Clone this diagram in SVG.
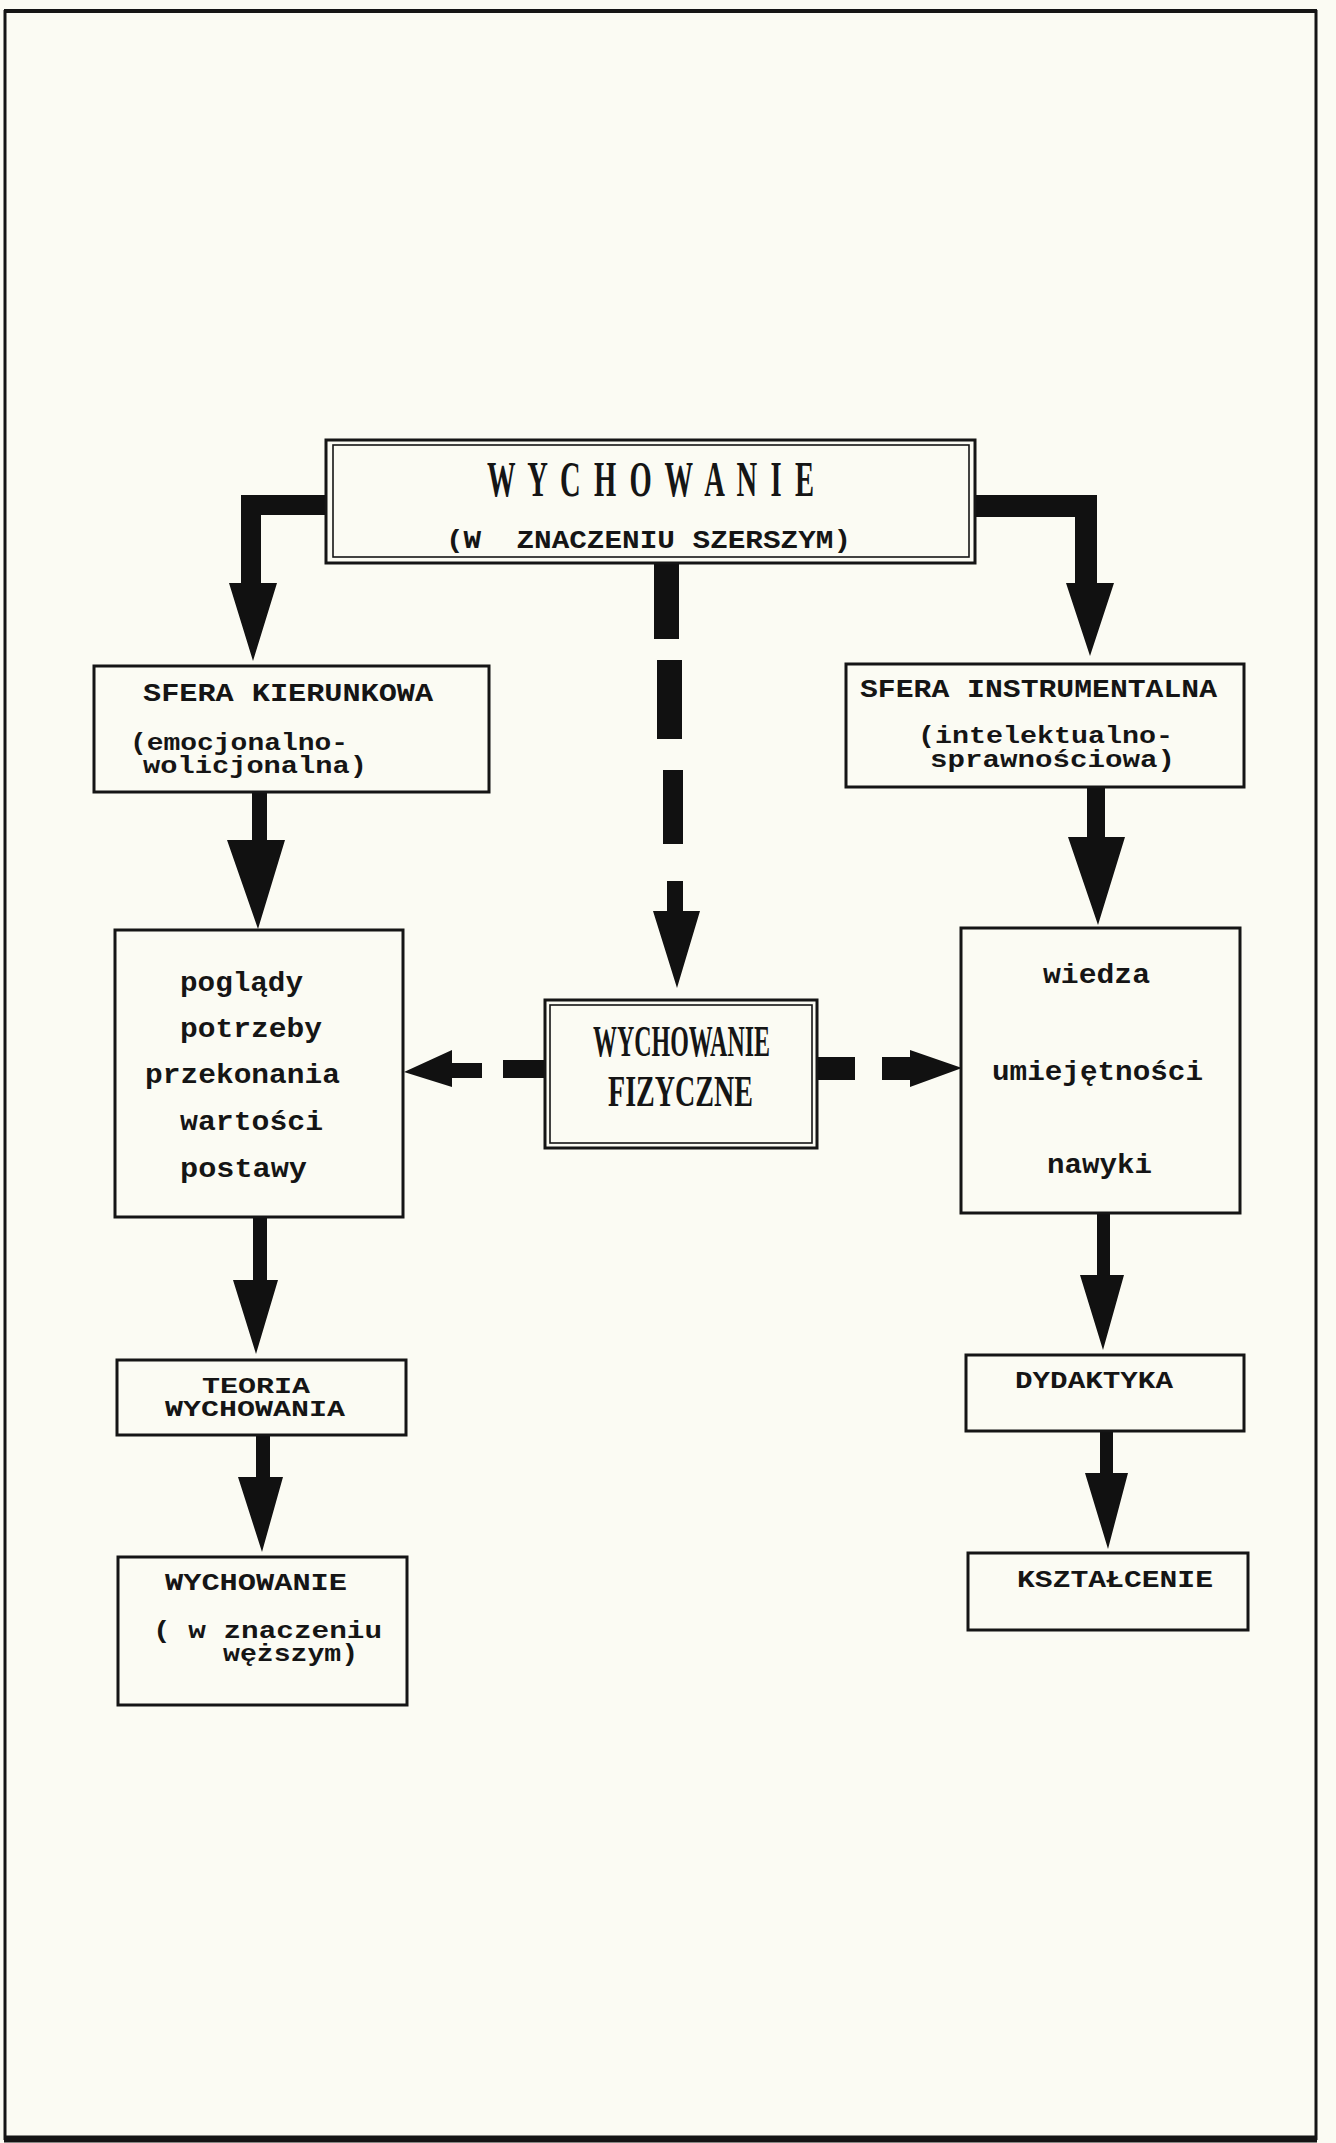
<svg xmlns="http://www.w3.org/2000/svg" width="1336" height="2143" viewBox="0 0 1336 2143">
<style>
.bg{fill:#fbfbf3}
.frame{stroke:#151515;fill:none}
.box{fill:none;stroke:#151515;stroke-width:3}
.box2{fill:none;stroke:#151515;stroke-width:1.6}
.conn{fill:#111}
.tw{font-family:"Liberation Mono","Courier New",monospace;font-weight:bold;fill:#151515}
.ser{font-family:"Liberation Serif","Times New Roman",serif;font-weight:bold;fill:#151515}
</style>
<rect class="bg" x="0" y="0" width="1336" height="2143"/>
<g id="frame">
<line class="frame" x1="5" y1="10" x2="5" y2="2140" stroke-width="3"/>
<line class="frame" x1="4" y1="11" x2="1317" y2="11" stroke-width="4"/>
<line class="frame" x1="1316" y1="10" x2="1316" y2="2140" stroke-width="3"/>
<line class="frame" x1="4" y1="2139" x2="1317" y2="2139" stroke-width="7"/>
</g>
<g id="connectors">
<path class="conn" d="M327,495 L241,495 L241,583 L229,583 L253,661 L277,583 L261,583 L261,515 L327,515 Z"/>
<path class="conn" d="M974,495 L1097,495 L1097,583 L1114,583 L1090,656 L1066,583 L1075,583 L1075,517 L974,517 Z"/>
<rect class="conn" x="654" y="563" width="25" height="76"/>
<rect class="conn" x="657" y="660" width="25" height="79"/>
<rect class="conn" x="663" y="770" width="20" height="74"/>
<path class="conn" d="M667,881 L683,881 L683,911 L700,911 L677,988 L653,911 L667,911 Z"/>
<rect class="conn" x="503" y="1060" width="42" height="18"/>
<path class="conn" d="M482,1063 L482,1078 L452,1078 L452,1087 L404,1072 L452,1050 L452,1063 Z"/>
<rect class="conn" x="818" y="1057" width="37" height="23"/>
<path class="conn" d="M882,1057 L910,1057 L910,1050 L962,1068 L910,1087 L910,1080 L882,1080 Z"/>
<path class="conn" d="M252,792 L267,792 L267,840 L285,840 L258,929 L227,840 L252,840 Z"/>
<path class="conn" d="M1087,787 L1105,787 L1105,837 L1125,837 L1098,925 L1068,837 L1087,837 Z"/>
<path class="conn" d="M253,1216 L267,1216 L267,1280 L278,1280 L256,1354 L233,1280 L253,1280 Z"/>
<path class="conn" d="M256,1435 L270,1435 L270,1477 L283,1477 L262,1552 L238,1477 L256,1477 Z"/>
<path class="conn" d="M1097,1213 L1110,1213 L1110,1275 L1124,1275 L1103,1350 L1080,1275 L1097,1275 Z"/>
<path class="conn" d="M1100,1431 L1113,1431 L1113,1473 L1128,1473 L1108,1549 L1085,1473 L1100,1473 Z"/>
</g>
<g id="node-wychowanie-main">
<rect class="box" x="326" y="440" width="649" height="123" stroke-width="4"/>
<rect class="box2" x="333" y="445" width="636" height="112"/>
<text class="ser" font-size="51" letter-spacing="5.5" text-anchor="middle" transform="translate(652 496) scale(0.56 1)">W Y C H O W A N I E</text>
<text class="tw" font-size="25" x="446" y="548" textLength="405" lengthAdjust="spacingAndGlyphs" xml:space="preserve">(W  ZNACZENIU SZERSZYM)</text>
</g>
<g id="node-sfera-kierunkowa">
<rect class="box" x="94" y="666" width="395" height="126"/>
<text class="tw" font-size="26" x="143" y="701" textLength="290" lengthAdjust="spacingAndGlyphs">SFERA KIERUNKOWA</text>
<text class="tw" font-size="24" x="130" y="750" textLength="218" lengthAdjust="spacingAndGlyphs">(emocjonalno-</text>
<text class="tw" font-size="24" x="143" y="773" textLength="224" lengthAdjust="spacingAndGlyphs">wolicjonalna)</text>
</g>
<g id="node-sfera-instrumentalna">
<rect class="box" x="846" y="664" width="398" height="123"/>
<text class="tw" font-size="26" x="860" y="697" textLength="357" lengthAdjust="spacingAndGlyphs">SFERA INSTRUMENTALNA</text>
<text class="tw" font-size="24" x="918" y="743" textLength="255" lengthAdjust="spacingAndGlyphs">(intelektualno-</text>
<text class="tw" font-size="24" x="930" y="767" textLength="245" lengthAdjust="spacingAndGlyphs">sprawnościowa)</text>
</g>
<g id="node-postawy">
<rect class="box" x="115" y="930" width="288" height="287"/>
<text class="tw" font-size="28" x="180" y="991" textLength="123" lengthAdjust="spacingAndGlyphs">poglądy</text>
<text class="tw" font-size="28" x="180" y="1037" textLength="142" lengthAdjust="spacingAndGlyphs">potrzeby</text>
<text class="tw" font-size="28" x="145" y="1083" textLength="195" lengthAdjust="spacingAndGlyphs">przekonania</text>
<text class="tw" font-size="28" x="180" y="1130" textLength="143" lengthAdjust="spacingAndGlyphs">wartości</text>
<text class="tw" font-size="28" x="180" y="1177" textLength="127" lengthAdjust="spacingAndGlyphs">postawy</text>
</g>
<g id="node-wiedza">
<rect class="box" x="961" y="928" width="279" height="285"/>
<text class="tw" font-size="28" x="1043" y="983" textLength="107" lengthAdjust="spacingAndGlyphs">wiedza</text>
<text class="tw" font-size="28" x="992" y="1080" textLength="211" lengthAdjust="spacingAndGlyphs">umiejętności</text>
<text class="tw" font-size="28" x="1047" y="1173" textLength="105" lengthAdjust="spacingAndGlyphs">nawyki</text>
</g>
<g id="node-wychowanie-fizyczne">
<rect class="box" x="545" y="1000" width="272" height="148" stroke-width="3.5"/>
<rect class="box2" x="550" y="1005" width="262" height="138" stroke-width="1.2"/>
<text class="ser" font-size="45" x="593" y="1056" textLength="177" lengthAdjust="spacingAndGlyphs">WYCHOWANIE</text>
<text class="ser" font-size="45" x="608" y="1106" textLength="145" lengthAdjust="spacingAndGlyphs">FIZYCZNE</text>
</g>
<g id="node-teoria">
<rect class="box" x="117" y="1360" width="289" height="75"/>
<text class="tw" font-size="22" x="202" y="1393" textLength="108" lengthAdjust="spacingAndGlyphs">TEORIA</text>
<text class="tw" font-size="22" x="165" y="1416" textLength="180" lengthAdjust="spacingAndGlyphs">WYCHOWANIA</text>
</g>
<g id="node-wychowanie-wezsze">
<rect class="box" x="118" y="1557" width="289" height="148"/>
<text class="tw" font-size="23" x="165" y="1590" textLength="182" lengthAdjust="spacingAndGlyphs">WYCHOWANIE</text>
<text class="tw" font-size="24" x="153" y="1638" textLength="229" lengthAdjust="spacingAndGlyphs">( w znaczeniu</text>
<text class="tw" font-size="24" x="223" y="1661" textLength="135" lengthAdjust="spacingAndGlyphs">węższym)</text>
</g>
<g id="node-dydaktyka">
<rect class="box" x="966" y="1355" width="278" height="76"/>
<text class="tw" font-size="23" x="1015" y="1388" textLength="158" lengthAdjust="spacingAndGlyphs">DYDAKTYKA</text>
</g>
<g id="node-ksztalcenie">
<rect class="box" x="968" y="1553" width="280" height="77"/>
<text class="tw" font-size="23" x="1017" y="1587" textLength="196" lengthAdjust="spacingAndGlyphs">KSZTAŁCENIE</text>
</g>
</svg>
